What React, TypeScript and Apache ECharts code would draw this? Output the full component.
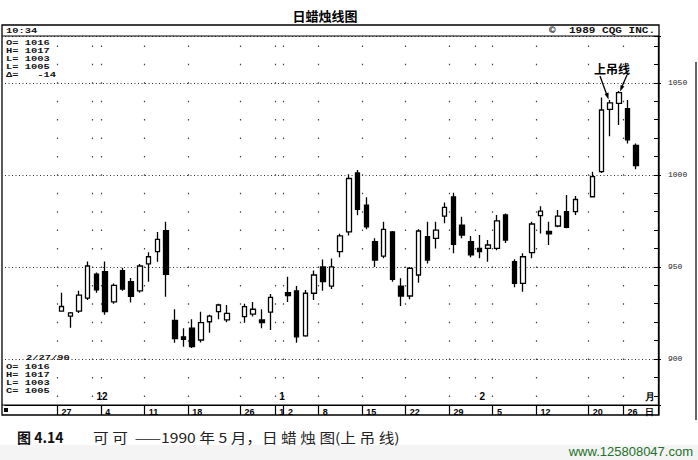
import React, { useEffect, useRef } from 'react';
import * as echarts from 'echarts';

// Trading-day slots (weekday calendar; holidays kept as empty slots)
const dates = [
  '11/17', '11/20', '11/21', '11/22', '11/23', '11/24',
  '11/27', '11/28', '11/29', '11/30', '12/1',
  '12/4', '12/5', '12/6', '12/7', '12/8',
  '12/11', '12/12', '12/13', '12/14', '12/15',
  '12/18', '12/19', '12/20', '12/21', '12/22',
  '12/25', '12/26', '12/27', '12/28', '12/29',
  '1/1', '1/2', '1/3', '1/4', '1/5',
  '1/8', '1/9', '1/10', '1/11', '1/12',
  '1/15', '1/16', '1/17', '1/18', '1/19',
  '1/22', '1/23', '1/24', '1/25', '1/26',
  '1/29', '1/30', '1/31', '2/1', '2/2',
  '2/5', '2/6', '2/7', '2/8', '2/9',
  '2/12', '2/13', '2/14', '2/15', '2/16',
  '2/19', '2/20', '2/21', '2/22', '2/23',
  '2/26', '2/27',
  '2/28', '3/1',
];

const opens = [
  null, null, null, null, null, null,
  926, 923.3, 926, 933, 946,
  947.4, 931, 948, 942, 937,
  951.6, 958.3, 969.7, 921, 912,
  916.7, 910.3, 920.2, 925.7, 921.2,
  null, 923, 924.4, 921.2, 925.4,
  null, 936, 937, 912.5, 935.7,
  950, 939.6, 958.3, 969, 1001,
  983.6, 963.7, 955.9, 969, 939.6,
  934.2, 945.6, 966.4, 965.5, 977.6,
  988, 972.7, 963.7, 960, 960.1,
  960.1, 978.2, 952.8, 941.1, 957.7,
  977.8, 969.3, 972.2, 980, 980,
  null, 988.1, 1001.7, 1035.5, 1038.8,
  1036, 1016,
  null, null,
];
const closes = [
  null, null, null, null, null, null,
  928.5, 925, 934.7, 950.5, 937.5,
  925.7, 940, 938, 934, 950.5,
  955.5, 965, 946, 911, 910.7,
  906.7, 919.7, 923.3, 929.3, 924.8,
  null, 928.4, 927, 919.7, 933.5,
  null, 934.4, 912, 935.7, 945.6,
  942, 950, 966.8, 998, 981.3,
  971.8, 953.7, 970.4, 943.3, 934.2,
  949.2, 969.5, 953.7, 970, 982.3,
  962.3, 967.3, 956.5, 958.3, 961.9,
  975, 964.6, 941.1, 955.5, 973.3,
  980.3, 967.9, 977.6, 971.5, 986.6,
  null, 999, 1035.2, 1039.1, 1044.6,
  1019, 1005,
  null, null,
];
const lows = [
  null, null, null, null, null, null,
  926, 917, 925, 932, 936,
  924, 930, 937, 930.6, 936,
  942, 952.8, 933.8, 908.8, 906.7,
  906, 909, 914.3, 921.6, 920,
  null, 919.7, 923, 916.7, 915.7,
  null, 931, 908.8, 912, 932,
  937, 938, 955.2, 967, 978,
  970.4, 950, 954.7, 942, 928.8,
  932.4, 941.4, 951.9, 960, 973.7,
  957.4, 965.5, 955.2, 954.7, 952.8,
  959, 963, 938.9, 936.5, 954.7,
  968.2, 961.9, 971.5, 971, 978.2,
  null, 988, 1001, 1021, 1027,
  1017, 1003,
  null, null,
];
const highs = [
  null, null, null, null, null, null,
  936, 925.5, 937, 953, 947,
  953, 941, 949.5, 944, 951.6,
  958, 969, 974.5, 927, 916.7,
  921.6, 925.7, 924, 930, 929.3,
  null, 930, 931, 927, 935.3,
  null, 944.7, 939.6, 937.5, 948,
  954, 954.6, 968, 1000.3, 1002.6,
  987.8, 965.5, 974.5, 969.5, 943.8,
  950, 970.4, 974.5, 974.5, 985,
  990.3, 977.3, 966.8, 967.3, 964.6,
  978.2, 979, 954.1, 957.4, 974.5,
  983, 974.5, 980.9, 989, 988.5,
  null, 1001.7, 1042, 1040.6, 1045.5,
  1040.6, 1017,
  null, null,
];

// Day strip (week starts) and month markers
const weekStarts = ['11/27', '12/4', '12/11', '12/18', '12/26', '1/1', '1/2', '1/8', '1/15', '1/22', '1/29', '2/5', '2/12', '2/20', '2/26'];
const weekLabels = ['27', '4', '11', '18', '26', '1', '2', '8', '15', '22', '29', '5', '12', '20', '26'];
const monthStarts = ['12/1', '1/1', '2/1', '2/28'];
const monthLabels = ['12', '1', '2', '月'];
const dayUnitSlot = '2/28';
const dayUnitLabel = '日';

const yMin = 875;
const yMax = 1075.4;

const mono = '"Liberation Mono", "DejaVu Sans Mono", monospace';
const sans = '"Liberation Sans", Arial, sans-serif';
const cjk = '"Noto Sans CJK SC", sans-serif';

function buildOption() {
  const candle = dates.map((_, i) =>
    opens[i] == null ? ['-', '-', '-', '-'] : [opens[i], closes[i], lows[i], highs[i]]
  );
  const dayMap: Record<string, string> = {};
  weekStarts.forEach((d, i) => (dayMap[d] = weekLabels[i]));
  dayMap[dayUnitSlot] = dayUnitLabel;
  const monthMap: Record<string, string> = {};
  monthStarts.forEach((d, i) => (monthMap[d] = monthLabels[i]));
  const sepSet = new Set(weekStarts);
  const dotSet = new Set([...weekStarts, '12/1', '2/1']);

  const txt = (x: number, y: number, text: string, font: string, align = 'left', fill = '#111', scaleX = 1) => ({
    type: 'text',
    x,
    y,
    scaleX,
    silent: true,
    style: {
      text,
      font,
      fill,
      align,
      verticalAlign: 'middle',
      textAlign: align,
      textVerticalAlign: 'middle',
    },
  });

  const statFont = `bold 8px ${mono}`;
  const sx = 1.3;

  return {
    animation: false,
    backgroundColor: '#ffffff',
    grid: { left: 5, right: 40, top: 36, bottom: 55, containLabel: false },
    xAxis: [
      {
        type: 'category',
        data: dates,
        boundaryGap: true,
        position: 'bottom',
        axisLine: { show: true, lineStyle: { color: '#000', width: 1.2 } },
        axisTick: {
          show: true,
          inside: false,
          length: 10,
          interval: (i: number, v: string) => sepSet.has(v),
          lineStyle: { color: '#000', width: 1.2 },
        },
        axisLabel: {
          show: true,
          interval: (i: number, v: string) => dayMap[v] != null,
          formatter: (v: string) => dayMap[v] ?? '',
          align: 'left',
          margin: 2,
          fontSize: 9,
          fontWeight: 'bold',
          fontFamily: sans,
          color: '#000',
        },
        splitLine: {
          show: true,
          interval: (i: number, v: string) => dotSet.has(v),
          lineStyle: { color: '#444', width: 1.2, type: [1.5, 16.92], dashOffset: 8.57 },
        },
      },
      {
        type: 'category',
        data: dates,
        boundaryGap: true,
        position: 'bottom',
        axisLine: { show: false },
        axisTick: { show: false },
        splitLine: { show: false },
        axisLabel: {
          show: true,
          inside: true,
          interval: (i: number, v: string) => monthMap[v] != null,
          formatter: (v: string) => monthMap[v] ?? '',
          align: 'left',
          margin: 4,
          fontSize: 10,
          fontWeight: 'bold',
          fontFamily: sans,
          color: '#000',
        },
      },
    ],
    yAxis: [
      {
        type: 'value',
        position: 'right',
        min: yMin,
        max: yMax,
        minInterval: 10,
        maxInterval: 10,
        axisLine: { show: true, lineStyle: { color: '#000', width: 1.3 } },
        axisTick: { show: true, inside: true, length: 4, lineStyle: { color: '#000', width: 1 } },
        axisLabel: { show: false },
        splitLine: { show: false },
      },
      {
        type: 'value',
        position: 'right',
        min: yMin,
        max: yMax,
        minInterval: 50,
        maxInterval: 50,
        axisLine: { show: false },
        axisTick: { show: true, inside: false, length: 3, lineStyle: { color: '#000', width: 1 } },
        axisLabel: {
          show: true,
          margin: 10,
          fontSize: 8,
          fontFamily: mono,
          color: '#222',
          formatter: (v: number) => (Math.abs(v % 50) < 1e-6 ? String(v) : ''),
        },
        splitLine: { show: true, lineStyle: { color: '#333', width: 1, type: [1, 2.5] } },
      },
    ],
    series: [
      {
        type: 'candlestick',
        xAxisIndex: 0,
        yAxisIndex: 0,
        data: candle,
        barWidth: 5,
        itemStyle: {
          color: '#ffffff',
          color0: '#000000',
          borderColor: '#000000',
          borderColor0: '#000000',
          borderWidth: 1.3,
        },
      },
    ],
    graphic: [
      { type: 'rect', silent: true, z: -10, shape: { x: 0, y: 445, width: 698, height: 15 }, style: { fill: '#f4f4f4' } },
      { type: 'rect', silent: true, z: 100, shape: { x: 2, y: 25, width: 657, height: 390 }, style: { fill: 'none', stroke: '#000', lineWidth: 1.3 } },
      { type: 'line', silent: true, z: 100, shape: { x1: 2, y1: 36, x2: 659, y2: 36 }, style: { stroke: '#000', lineWidth: 1 } },
      { type: 'line', silent: true, z: 100, shape: { x1: 2, y1: 405, x2: 659, y2: 405 }, style: { stroke: '#000', lineWidth: 1.2 } },
      { type: 'line', silent: true, z: 100, shape: { x1: 696, y1: 62, x2: 696, y2: 420 }, style: { stroke: '#333', lineWidth: 1.5 } },
      { type: 'rect', silent: true, z: 100, shape: { x: 4, y: 408, width: 4, height: 4 }, style: { fill: '#000' } },
      txt(325, 15, '日蜡烛线图', `bold 13px ${cjk}`, 'center', '#000'),
      txt(655, 30.5, '©  1989 CQG INC.', `bold 8.5px ${mono}`, 'right', '#111', sx),
      txt(6, 30.5, '10:34', statFont, 'left', '#111', sx),
      txt(6, 42.5, 'O= 1016', statFont, 'left', '#111', sx),
      txt(6, 50.5, 'H= 1017', statFont, 'left', '#111', sx),
      txt(6, 58.5, 'L= 1003', statFont, 'left', '#111', sx),
      txt(6, 66.5, 'L= 1005', statFont, 'left', '#111', sx),
      txt(6, 74.5, 'Δ=   -14', statFont, 'left', '#111', sx),
      txt(26, 358, '2/27/90', statFont, 'left', '#111', sx),
      txt(6, 366.5, 'O= 1016', statFont, 'left', '#111', sx),
      txt(6, 374.5, 'H= 1017', statFont, 'left', '#111', sx),
      txt(6, 382.5, 'L= 1003', statFont, 'left', '#111', sx),
      txt(6, 390.5, 'C= 1005', statFont, 'left', '#111', sx),
      txt(612, 68, '上吊线', `bold 12px ${cjk}`, 'center', '#000'),
      { type: 'line', silent: true, z: 100, shape: { x1: 600, y1: 76, x2: 606.5, y2: 94 }, style: { stroke: '#000', lineWidth: 1.3 } },
      { type: 'polygon', silent: true, z: 100, shape: { points: [[608.5, 99.5], [608.6, 92.6], [604.6, 94.0]] }, style: { fill: '#000' } },
      { type: 'line', silent: true, z: 100, shape: { x1: 627, y1: 75, x2: 622, y2: 86.5 }, style: { stroke: '#000', lineWidth: 1.3 } },
      { type: 'polygon', silent: true, z: 100, shape: { points: [[620, 91.5], [624.4, 86.6], [620.6, 84.9]] }, style: { fill: '#000' } },
      txt(17, 437, '图 4.14', `bold 14px ${cjk}`, 'left', '#111'),
      txt(93, 437, '可 可  ——1990 年 5 月，日 蜡 烛 图(上 吊 线)', `13.5px ${cjk}`, 'left', '#222', 1.16),
      txt(693, 451.5, 'www.125808047.com', `13px ${sans}`, 'right', '#23702a'),
    ],
  };
}

export default function App() {
  const ref = useRef<HTMLDivElement>(null);
  useEffect(() => {
    if (!ref.current) return;
    const chart = echarts.init(ref.current, null, { renderer: 'svg' });
    chart.setOption(buildOption() as any);
    return () => chart.dispose();
  }, []);
  return (
    <div
      ref={ref}
      style={{ position: 'absolute', left: 0, top: 0, width: 698, height: 460, background: '#fff' }}
    />
  );
}
